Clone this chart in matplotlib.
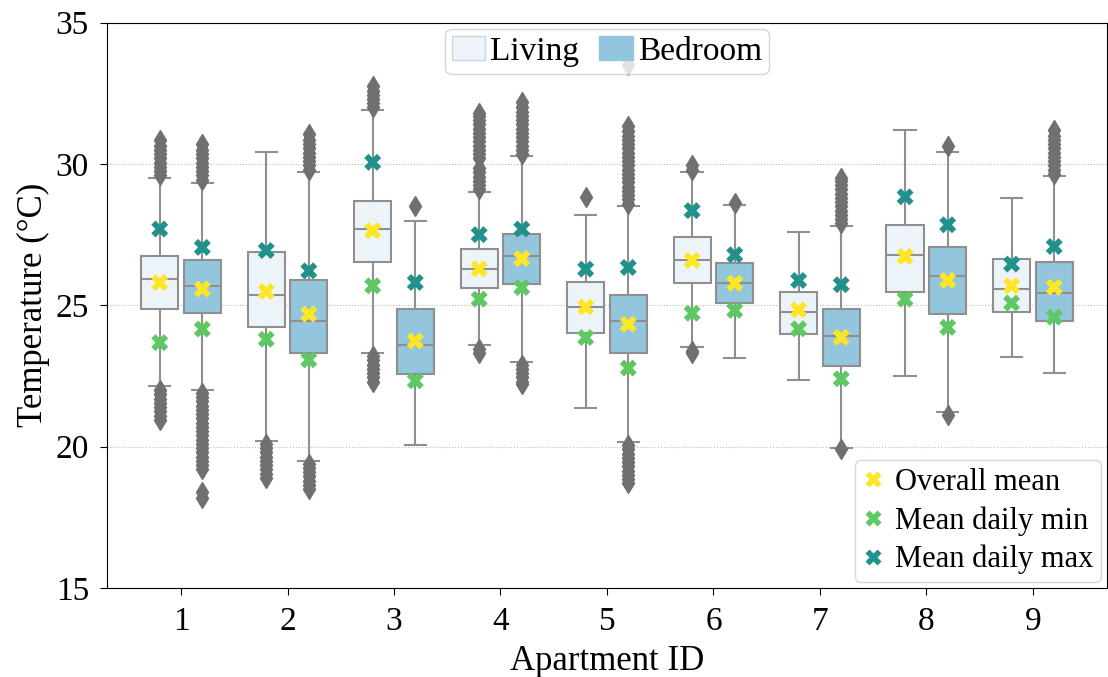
import numpy as np
import matplotlib
matplotlib.use("Agg")
import matplotlib.pyplot as plt
from matplotlib.patches import Patch
from matplotlib.lines import Line2D

plt.rcParams["font.family"] = ["Liberation Serif", "DejaVu Serif"]

# Apartment IDs
apartments = ["1", "2", "3", "4", "5", "6", "7", "8", "9"]

# Box statistics (degC)
liv_q1 = [24.88, 24.22, 26.54, 25.63, 24.01, 25.78, 23.98, 25.48, 24.78]
liv_med = [25.93, 25.38, 27.70, 26.29, 24.94, 26.59, 24.75, 26.79, 25.58]
liv_q3 = [26.75, 26.88, 28.70, 26.99, 25.83, 27.40, 25.48, 27.84, 26.63]
liv_lo = [22.13, 20.20, 23.33, 23.58, 21.36, 23.52, 22.36, 22.50, 23.17]
liv_hi = [29.50, 30.41, 31.92, 29.00, 28.19, 29.71, 27.59, 31.21, 28.79]

bed_q1 = [24.72, 23.33, 22.58, 25.75, 23.33, 25.08, 22.87, 24.69, 24.46]
bed_med = [25.69, 24.44, 23.58, 26.73, 24.44, 25.78, 23.92, 26.04, 25.43]
bed_q3 = [26.59, 25.88, 24.88, 27.53, 25.37, 26.48, 24.88, 27.05, 26.53]
bed_lo = [22.00, 19.50, 20.06, 23.01, 20.16, 23.12, 19.94, 21.24, 22.62]
bed_hi = [29.33, 29.71, 27.99, 30.27, 28.50, 28.55, 27.79, 30.41, 29.56]

# Outliers (approximate, read off the dense clusters)
liv_fliers = [
    [29.6, 29.75, 29.9, 30.05, 30.2, 30.35, 30.5, 30.65, 30.85,
     22.0, 21.85, 21.7, 21.55, 21.4, 21.25, 21.1, 20.95],
    [20.1, 19.95, 19.8, 19.65, 19.5, 19.35, 19.2, 19.05, 18.9],
    [32.0, 32.15, 32.3, 32.45, 32.6, 32.75,
     23.2, 23.05, 22.9, 22.75, 22.6, 22.45, 22.3],
    [29.1, 29.25, 29.4, 29.55, 29.7, 29.85,
     30.2, 30.35, 30.5, 30.65, 30.8, 30.95, 31.1, 31.25, 31.4, 31.55, 31.7, 31.8,
     23.45, 23.3],
    [28.85],
    [29.8, 29.95, 23.4, 23.3],
    [],
    [],
    [],
]
bed_fliers = [
    [29.45, 29.6, 29.75, 29.9, 30.05, 30.2, 30.35, 30.5, 30.7,
     21.9, 21.75, 21.6, 21.45, 21.3, 21.15, 21.0, 20.85, 20.7, 20.55, 20.4,
     20.25, 20.1, 19.95, 19.8, 19.65, 19.5, 19.35, 19.2, 18.4, 18.2],
    [29.8, 29.95, 30.1, 30.25, 30.4, 30.55, 30.7, 30.85, 31.05,
     19.4, 19.25, 19.1, 18.95, 18.8, 18.65, 18.5],
    [28.5],
    [30.35, 30.5, 30.65, 30.8, 30.95, 31.1, 31.25, 31.4, 31.55, 31.7, 31.85,
     32.0, 32.2, 22.9, 22.75, 22.6, 22.45, 22.3, 22.2],
    [28.6, 28.75, 28.9, 29.05, 29.2, 29.35, 29.5, 29.65, 29.8, 29.95, 30.1,
     30.25, 30.4, 30.55, 30.7, 30.85, 31.0, 31.15, 31.35, 33.5,
     20.05, 19.9, 19.75, 19.6, 19.45, 19.3, 19.15, 19.0, 18.85, 18.7],
    [28.62],
    [27.9, 28.05, 28.2, 28.35, 28.5, 28.65, 28.8, 28.95, 29.1, 29.25, 29.4,
     29.5, 19.9],
    [30.65, 21.12],
    [29.65, 29.8, 29.95, 30.1, 30.25, 30.4, 30.55, 30.7, 30.85, 31.0, 31.2],
]

# Summary markers
liv_mean = [25.80, 25.49, 27.64, 26.29, 24.94, 26.59, 24.84, 26.73, 25.69]
liv_min = [23.68, 23.80, 25.69, 25.22, 23.86, 24.72, 24.17, 25.22, 25.08]
liv_max = [27.70, 26.94, 30.06, 27.50, 26.28, 28.35, 25.88, 28.84, 26.46]
bed_mean = [25.58, 24.69, 23.74, 26.65, 24.33, 25.78, 23.87, 25.88, 25.64]
bed_min = [24.16, 23.07, 22.33, 25.63, 22.78, 24.82, 22.40, 24.22, 24.58]
bed_max = [27.05, 26.22, 25.81, 27.70, 26.34, 26.79, 25.73, 27.85, 27.08]

liv_color = "#ECF4F9"
bed_color = "#93C6DD"
line_gray = "#8f8f8f"
flier_gray = "#707070"
c_mean = "#fde725"
c_min = "#5ec962"
c_max = "#21918c"

fig = plt.figure(figsize=(11.08, 6.77), dpi=100)
ax = fig.add_axes([0.0966, 0.1315, 0.9024, 0.835])

x = np.arange(len(apartments))
offset = 0.2
width = 0.35


def make_stats(q1, med, q3, lo, hi, fl):
    return [
        dict(q1=q1[i], med=med[i], q3=q3[i], whislo=lo[i], whishi=hi[i],
             fliers=fl[i])
        for i in range(len(q1))
    ]


for stats, pos, color in [
    (make_stats(liv_q1, liv_med, liv_q3, liv_lo, liv_hi, liv_fliers), x - offset, liv_color),
    (make_stats(bed_q1, bed_med, bed_q3, bed_lo, bed_hi, bed_fliers), x + offset, bed_color),
]:
    ax.bxp(
        stats,
        positions=pos,
        widths=width,
        capwidths=0.2,
        patch_artist=True,
        manage_ticks=False,
        boxprops=dict(facecolor=color, edgecolor=line_gray, linewidth=1.5),
        medianprops=dict(color=line_gray, linewidth=1.5),
        whiskerprops=dict(color=line_gray, linewidth=1.5),
        capprops=dict(color=line_gray, linewidth=1.5),
        flierprops=dict(marker="d", markersize=10, markerfacecolor=flier_gray,
                        markeredgecolor=flier_gray, markeredgewidth=1,
                        linestyle="none"),
        zorder=2,
    )

# Mean / min / max markers
for vals, col in [(liv_mean, c_mean), (liv_min, c_min), (liv_max, c_max)]:
    ax.scatter(x - offset, vals, marker="X", s=150, color=col, edgecolors="none", zorder=4)
for vals, col in [(bed_mean, c_mean), (bed_min, c_min), (bed_max, c_max)]:
    ax.scatter(x + offset, vals, marker="X", s=150, color=col, edgecolors="none", zorder=4)

ax.set_xlim(-0.695, 8.695)
ax.set_ylim(15, 35)
ax.set_xticks(x)
ax.set_xticklabels(apartments)
ax.set_yticks([15, 20, 25, 30, 35])
ax.tick_params(labelsize=24, length=5, pad=8)
ax.set_xlabel("Apartment ID", fontsize=25, labelpad=6)
ax.set_ylabel("Temperature (°C)", fontsize=25, labelpad=4)
ax.yaxis.grid(True, linestyle=":", color="#bbbbbb", linewidth=0.8)
ax.set_axisbelow(True)

# Legend for rooms
room_handles = [
    Patch(facecolor=liv_color, edgecolor="#c9d6de", label="Living"),
    Patch(facecolor=bed_color, edgecolor=bed_color, label="Bedroom"),
]
leg1 = ax.legend(handles=room_handles, loc="upper center", ncol=2, fontsize=24,
                 handlelength=1.0, handleheight=0.75, handletextpad=0.15,
                 columnspacing=0.6, borderpad=0.2, borderaxespad=0.2)
ax.add_artist(leg1)

# Legend for markers
marker_handles = [
    Line2D([], [], marker="X", color=c_mean, linestyle="none", markersize=11,
           markeredgecolor="none", label="Overall mean"),
    Line2D([], [], marker="X", color=c_min, linestyle="none", markersize=11,
           markeredgecolor="none", label="Mean daily min"),
    Line2D([], [], marker="X", color=c_max, linestyle="none", markersize=11,
           markeredgecolor="none", label="Mean daily max"),
]
ax.legend(handles=marker_handles, loc="lower right", fontsize=22,
          handlelength=0.7, handletextpad=0.35, borderpad=0.25,
          labelspacing=0.3, borderaxespad=0.2)

fig.savefig("out.png", dpi=100)
